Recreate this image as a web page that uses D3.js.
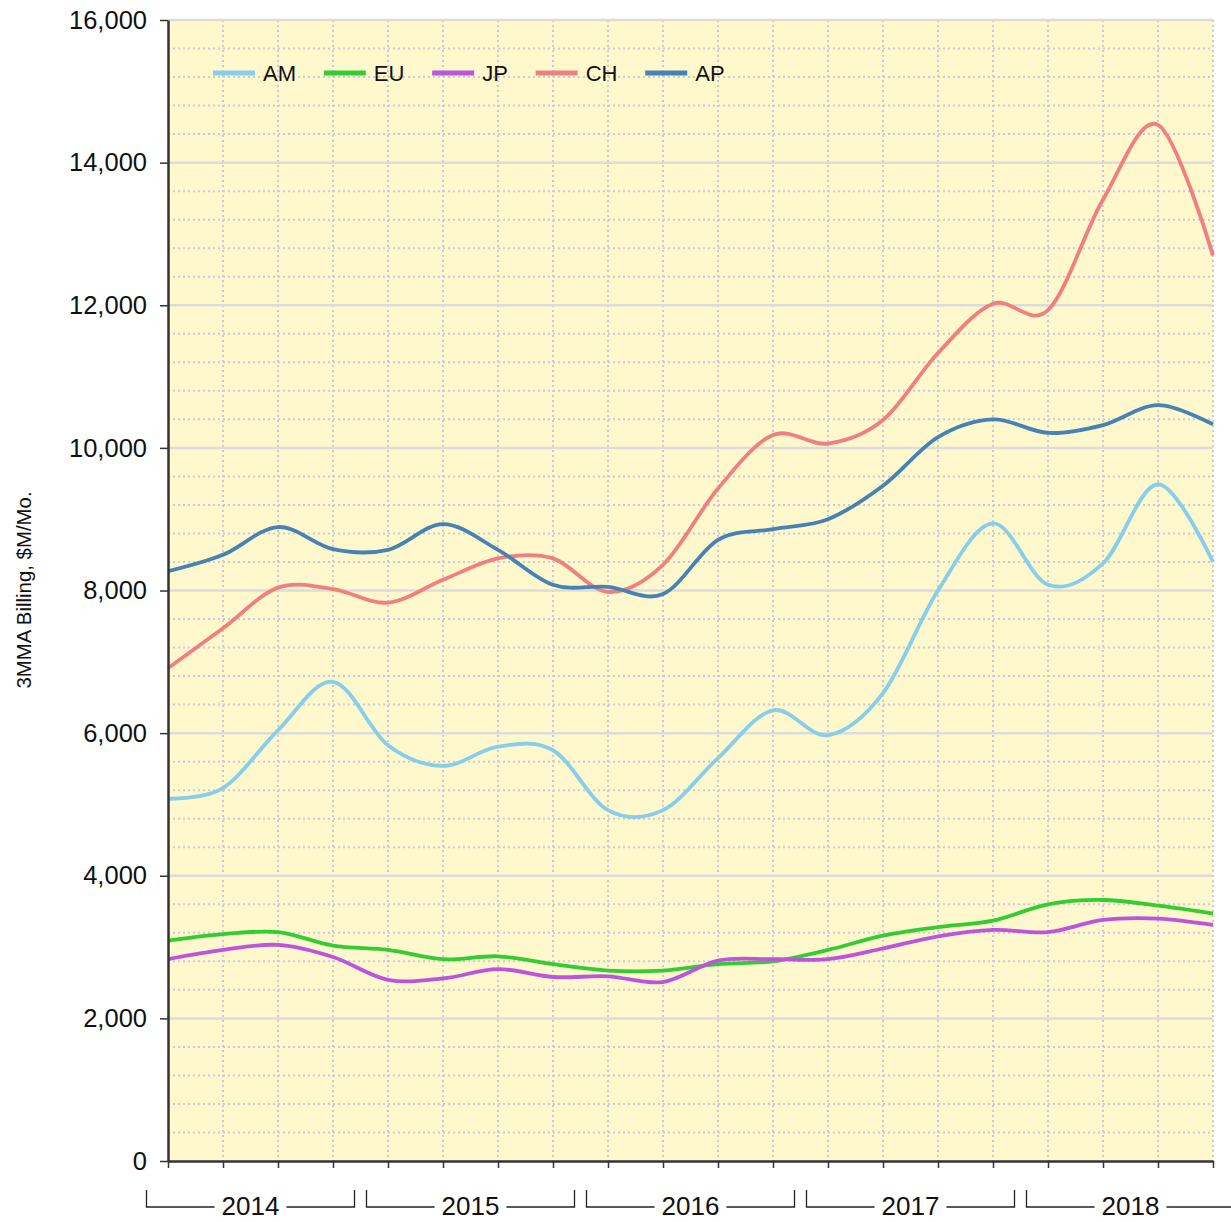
<!DOCTYPE html>
<html><head><meta charset="utf-8">
<script src="https://cdn.jsdelivr.net/npm/d3@7"></script>
<style>
body{margin:0;background:#fff}
svg{display:block;font-family:"Liberation Sans",Arial,sans-serif}
</style>
</head><body>
<svg id="c" width="1231" height="1222"></svg>
<script>
// ---- data (quarterly, 3-month moving average billing, $M/Mo.) ----
const quarters = ["2014Q1","2014Q2","2014Q3","2014Q4","2015Q1","2015Q2","2015Q3","2015Q4",
  "2016Q1","2016Q2","2016Q3","2016Q4","2017Q1","2017Q2","2017Q3","2017Q4",
  "2018Q1","2018Q2","2018Q3","2018Q4"];
const years = [2014, 2015, 2016, 2017, 2018];
const seriesNames = ["AM", "EU", "JP", "CH", "AP"];
const AM = [5080,5230,6040,6720,5830,5540,5810,5760,4920,4920,5650,6320,5970,6560,8000,8940,8080,8380,9490,8400];
const EU = [3090,3180,3210,3020,2960,2830,2870,2760,2670,2670,2760,2800,2960,3160,3280,3370,3600,3660,3580,3470];
const JP = [2830,2960,3030,2860,2540,2560,2690,2580,2590,2510,2810,2830,2830,2980,3150,3240,3210,3380,3400,3310];
const CH = [6910,7470,8040,8020,7830,8150,8450,8450,7980,8360,9430,10180,10060,10390,11330,12020,11930,13480,14530,12700];
const AP = [8270,8500,8890,8580,8570,8930,8570,8080,8050,7950,8710,8860,9000,9470,10150,10400,10210,10320,10600,10330];
const yTicks = [0,2000,4000,6000,8000,10000,12000,14000,16000];
const yTitle = "3MMA Billing, $M/Mo.";

const colors = {AM:"#87CEEB", EU:"#33CC33", JP:"#BB55DD", CH:"#F08080", AP:"#4682B4"};
const dataMap = {AM, EU, JP, CH, AP};

const svg = d3.select("#c");
const L = 168, R = 1213, T = 20, B = 1161;
const x = d3.scaleLinear().domain([0, quarters.length - 1]).range([L, R]);
const y = d3.scaleLinear().domain([0, 16000]).range([B, T]);

// background
svg.append("rect").attr("x", L).attr("y", T).attr("width", R - L).attr("height", B - T)
  .attr("fill", "#FFF8CD");

// minor horizontal grid
const minor = d3.range(400, 16000, 400).filter(v => v % 2000 !== 0);
svg.append("g").selectAll("line").data(minor).join("line")
  .attr("x1", L).attr("x2", R).attr("y1", d => y(d)).attr("y2", d => y(d))
  .attr("stroke", "#cbcbd6").attr("stroke-width", 2).attr("stroke-dasharray", "2,3");
// vertical grid
svg.append("g").selectAll("line").data(d3.range(1, quarters.length)).join("line")
  .attr("x1", d => x(d)).attr("x2", d => x(d)).attr("y1", T).attr("y2", B)
  .attr("stroke", "#cbcbd6").attr("stroke-width", 2).attr("stroke-dasharray", "2,3");
// major horizontal grid
svg.append("g").selectAll("line").data(yTicks.filter(v => v > 0)).join("line")
  .attr("x1", L).attr("x2", R).attr("y1", d => y(d)).attr("y2", d => y(d))
  .attr("stroke", "#dcdcdc").attr("stroke-width", 2.5);

// lines
const line = d3.line().x((d, i) => x(i)).y(d => y(d)).curve(d3.curveCardinal.tension(0));
seriesNames.forEach(n => {
  svg.append("path").datum(dataMap[n]).attr("d", line)
    .attr("fill", "none").attr("stroke", colors[n]).attr("stroke-width", 3.8)
    .attr("stroke-linejoin", "round");
});

// axes
const yAxis = svg.append("g").attr("transform", `translate(${L},0)`)
  .call(d3.axisLeft(y).tickValues(yTicks).tickSize(8).tickSizeOuter(0).tickPadding(13).tickFormat(d3.format(",")));
yAxis.selectAll("text").attr("font-size", 25.5).attr("fill", "#111").attr("font-family", "Liberation Sans, Arial, sans-serif");
yAxis.select(".domain").attr("stroke", "#333").attr("stroke-width", 2.5);
yAxis.selectAll(".tick line").attr("stroke", "#333").attr("stroke-width", 1.5);

const xAxis = svg.append("g").attr("transform", `translate(0,${B})`)
  .call(d3.axisBottom(x).tickValues(d3.range(quarters.length)).tickSize(7).tickSizeOuter(0).tickFormat(""));
xAxis.select(".domain").attr("stroke", "#333").attr("stroke-width", 2.5);
xAxis.selectAll(".tick line").attr("stroke", "#333").attr("stroke-width", 1.5);

// year brackets
const yb = svg.append("g");
years.forEach((yr, k) => {
  const x0 = x(4 * k - 0.5) + 6, x1 = x(4 * k + 3.5) - 6, cx = (x0 + x1) / 2;
  const t = yb.append("text").attr("x", cx).attr("y", 1215).attr("text-anchor", "middle")
    .attr("font-size", 26).attr("fill", "#111").text(yr);
  const w = t.node().getComputedTextLength();
  const g = 7;
  yb.append("path")
    .attr("d", `M${x0},1190V1207H${cx - w / 2 - g}M${cx + w / 2 + g},1207H${x1}V1190`)
    .attr("fill", "none").attr("stroke", "#222").attr("stroke-width", 1.3);
});

// legend
const lg = svg.append("g");
let lx = 213;
seriesNames.forEach(n => {
  lg.append("line").attr("x1", lx).attr("x2", lx + 42).attr("y1", 73).attr("y2", 73)
    .attr("stroke", colors[n]).attr("stroke-width", 5);
  const t = lg.append("text").attr("x", lx + 50).attr("y", 81).attr("font-size", 22)
    .attr("fill", "#111").text(n);
  lx += 50 + t.node().getComputedTextLength() + 27.8;
});

// y title
svg.append("text").attr("transform", "translate(31,590) rotate(-90)")
  .attr("text-anchor", "middle").attr("font-size", 20.4).attr("fill", "#111").text(yTitle);
</script>
</body></html>
